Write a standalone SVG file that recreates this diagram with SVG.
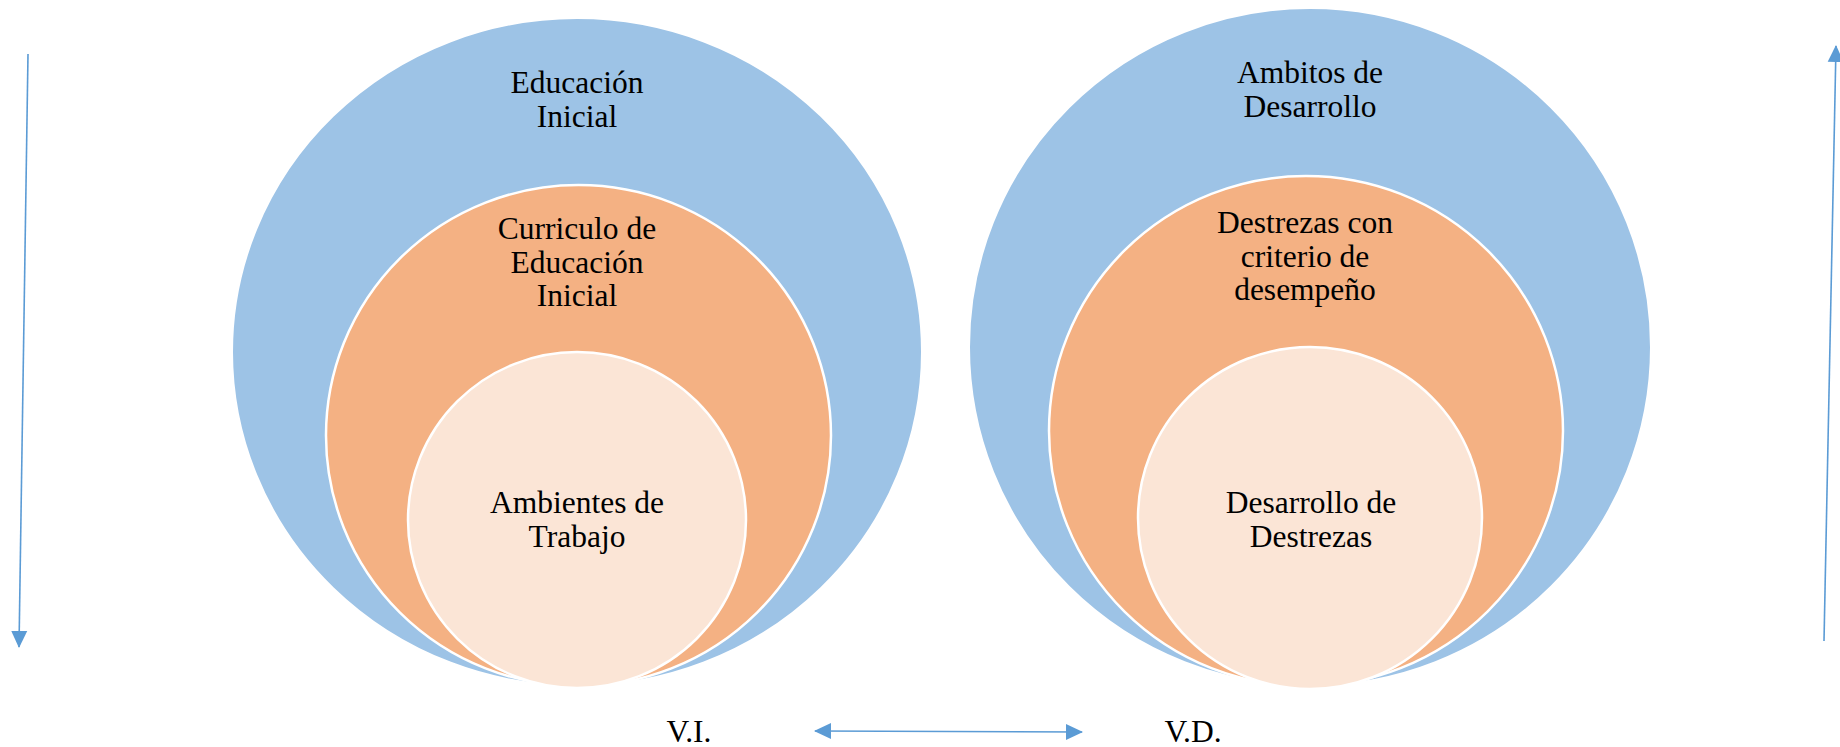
<svg xmlns="http://www.w3.org/2000/svg" width="1840" height="747" viewBox="0 0 1840 747">
<defs>
<style>
.outer{fill:#9DC3E6;stroke:#ffffff;stroke-width:2}
.mid{fill:#F4B183;stroke:#ffffff;stroke-width:2.5}
.inner{fill:#FBE5D6;stroke:#ffffff;stroke-width:2.5}
.t{font-family:'Liberation Serif','DejaVu Serif',serif;font-size:31.5px;fill:#000000;text-anchor:middle}
.conn{stroke:#5B9BD5;stroke-width:1.6;fill:none}
</style>
<marker id="ah" markerUnits="userSpaceOnUse" markerWidth="18" markerHeight="18" viewBox="0 0 18 18" refX="16" refY="9" orient="auto-start-reverse">
<path d="M0,1 L17,9 L0,17 Z" fill="#5B9BD5"/>
</marker>
</defs>
<rect width="1840" height="747" fill="#ffffff"/>
<g id="educacion-inicial">
<ellipse class="outer" cx="577" cy="352" rx="345" ry="334"/>
<text class="t" font-family="Liberation Serif, serif" x="577" y="93">Educación</text>
<text class="t" font-family="Liberation Serif, serif" x="577" y="127">Inicial</text>
</g>
<g id="curriculo">
<ellipse class="mid" cx="578.5" cy="435.5" rx="252.5" ry="250.5"/>
<text class="t" font-family="Liberation Serif, serif" x="577" y="239">Curriculo de</text>
<text class="t" font-family="Liberation Serif, serif" x="577" y="273">Educación</text>
<text class="t" font-family="Liberation Serif, serif" x="577" y="306">Inicial</text>
</g>
<g id="ambientes">
<ellipse class="inner" cx="577" cy="520" rx="169" ry="168"/>
<text class="t" font-family="Liberation Serif, serif" x="577" y="513">Ambientes de</text>
<text class="t" font-family="Liberation Serif, serif" x="577" y="547">Trabajo</text>
</g>
<g id="ambitos">
<ellipse class="outer" cx="1310" cy="347" rx="341" ry="339"/>
<text class="t" font-family="Liberation Serif, serif" x="1310" y="83">Ambitos de</text>
<text class="t" font-family="Liberation Serif, serif" x="1310" y="117">Desarrollo</text>
</g>
<g id="destrezas-criterio">
<ellipse class="mid" cx="1306" cy="431" rx="257" ry="255"/>
<text class="t" font-family="Liberation Serif, serif" x="1305" y="233">Destrezas con</text>
<text class="t" font-family="Liberation Serif, serif" x="1305" y="267">criterio de</text>
<text class="t" font-family="Liberation Serif, serif" x="1305" y="300">desempeño</text>
</g>
<g id="desarrollo-destrezas">
<ellipse class="inner" cx="1310" cy="518" rx="172" ry="171"/>
<text class="t" font-family="Liberation Serif, serif" x="1311" y="513">Desarrollo de</text>
<text class="t" font-family="Liberation Serif, serif" x="1311" y="547">Destrezas</text>
</g>
<g id="vi"><text class="t" font-family="Liberation Serif, serif" x="689" y="742">V.I.</text></g>
<g id="vd"><text class="t" font-family="Liberation Serif, serif" x="1193" y="742">V.D.</text></g>
<g id="connectors">
<line class="conn" x1="28" y1="54" x2="19" y2="647" marker-end="url(#ah)"/>
<line class="conn" x1="1824" y1="641" x2="1836" y2="46" marker-end="url(#ah)"/>
<line class="conn" x1="815" y1="731" x2="1082" y2="732" marker-start="url(#ah)" marker-end="url(#ah)"/>
</g>
</svg>
